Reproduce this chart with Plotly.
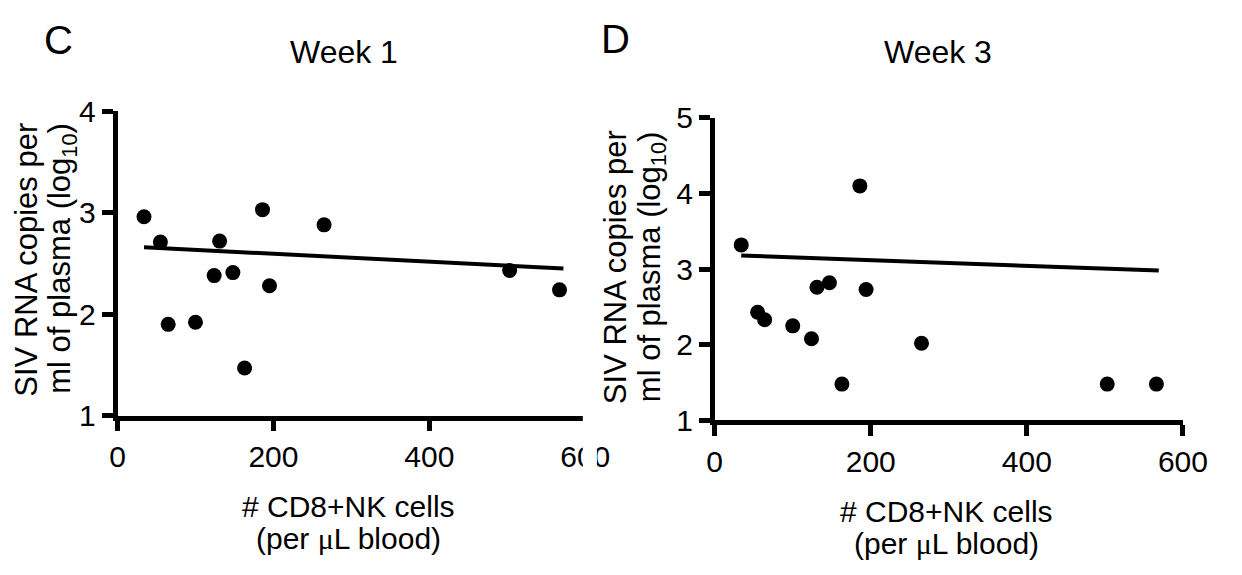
import plotly.graph_objects as go

W, H = 1242, 575

# ---- data ----
wk1_x = [34, 55, 65, 100, 124, 131, 148, 163, 186, 195, 265, 503, 567]
wk1_y = [2.96, 2.71, 1.90, 1.92, 2.38, 2.72, 2.41, 1.47, 3.03, 2.28, 2.88, 2.43, 2.24]
wk1_fit_x = [34, 572]
wk1_fit_y = [2.66, 2.45]

wk3_x = [34, 55, 64, 100, 124, 131, 147, 163, 186, 194, 265, 503, 566]
wk3_y = [3.32, 2.43, 2.33, 2.25, 2.08, 2.76, 2.82, 1.48, 4.10, 2.73, 2.02, 1.48, 1.48]
wk3_fit_x = [34, 569]
wk3_fit_y = [3.18, 2.98]

x_ticks = [0, 200, 400, 600]
wk1_yticks = [1, 2, 3, 4]
wk3_yticks = [1, 2, 3, 4, 5]

FONT = "Liberation Sans, Arial, sans-serif"

def px(x):
    return x / W

def py(y):
    return 1 - y / H

fig = go.Figure()
mk = dict(size=15, color="black", line=dict(width=0))
fig.add_trace(go.Scatter(x=wk1_x, y=wk1_y, mode="markers", marker=mk, xaxis="x", yaxis="y", showlegend=False))
fig.add_trace(go.Scatter(x=wk1_fit_x, y=wk1_fit_y, mode="lines", line=dict(color="black", width=4), xaxis="x", yaxis="y", showlegend=False))
fig.add_trace(go.Scatter(x=wk3_x, y=wk3_y, mode="markers", marker=mk, xaxis="x2", yaxis="y2", showlegend=False))
fig.add_trace(go.Scatter(x=wk3_fit_x, y=wk3_fit_y, mode="lines", line=dict(color="black", width=4), xaxis="x2", yaxis="y2", showlegend=False))

ax_common = dict(showline=True, linecolor="black", linewidth=4.5, ticks="outside", ticklen=11,
                 tickwidth=4.5, tickcolor="black", showgrid=False, zeroline=False,
                 tickfont=dict(family=FONT, size=30, color="black"))

# pixel anchors of the two plot areas
L_x0, L_x1 = 112.5, 593
L_y0, L_y1 = 424, 101
R_x0, R_x1 = 726, 1207
R_y0, R_y1 = 429, 108

fig.update_layout(
    width=W, height=H, margin=dict(l=0, r=0, t=0, b=0),
    paper_bgcolor="white", plot_bgcolor="white",
    xaxis=dict(domain=[px(L_x0), px(L_x1)], range=[0, 600], tickvals=x_ticks, anchor="y", **ax_common),
    yaxis=dict(domain=[py(L_y0), py(L_y1)], range=[1, 4], tickvals=wk1_yticks, anchor="x", **ax_common),
    xaxis2=dict(domain=[px(R_x0), px(R_x1)], range=[0, 600], tickvals=x_ticks, anchor="y2", **ax_common),
    yaxis2=dict(domain=[py(R_y0), py(R_y1)], range=[1, 5], tickvals=wk3_yticks, anchor="x2", **ax_common),
)

# the left panel is cut off at its right edge in the reference
fig.add_shape(type="rect", xref="paper", yref="paper", x0=px(590.5), x1=px(605), y0=0, y1=1,
              fillcolor="white", line=dict(width=0), layer="above")

def ann(text, x, y, size, angle=0):
    fig.add_annotation(text=text, x=px(x), y=py(y), xref="paper", yref="paper",
                       showarrow=False, textangle=angle, xanchor="center", yanchor="middle",
                       font=dict(family=FONT, size=size, color="black"), align="center")

ann("C", 52, 25, 40)
ann("D", 624, 24, 40)
ann("Week 1", 345, 38, 32)
ann("Week 3", 955, 38, 32)

yl1 = "SIV RNA copies per"
yl2 = "ml of plasma (log<sub>10</sub>)"
xl1 = "# CD8+NK cells"
xl2 = "(per <span style='font-family:Liberation Serif'>μ</span>L blood)"

ann(yl1, 19, 258, 31, -90)
ann(yl2, 56, 258, 31, -90)
ann(yl1, 624, 266, 31, -90)
ann(yl2, 661, 266, 31, -90)

ann(xl1, 350, 520, 30)
ann(xl2, 350, 554, 30)
ann(xl1, 964, 526, 30)
ann(xl2, 964, 560, 30)

fig.write_html("out.html")
